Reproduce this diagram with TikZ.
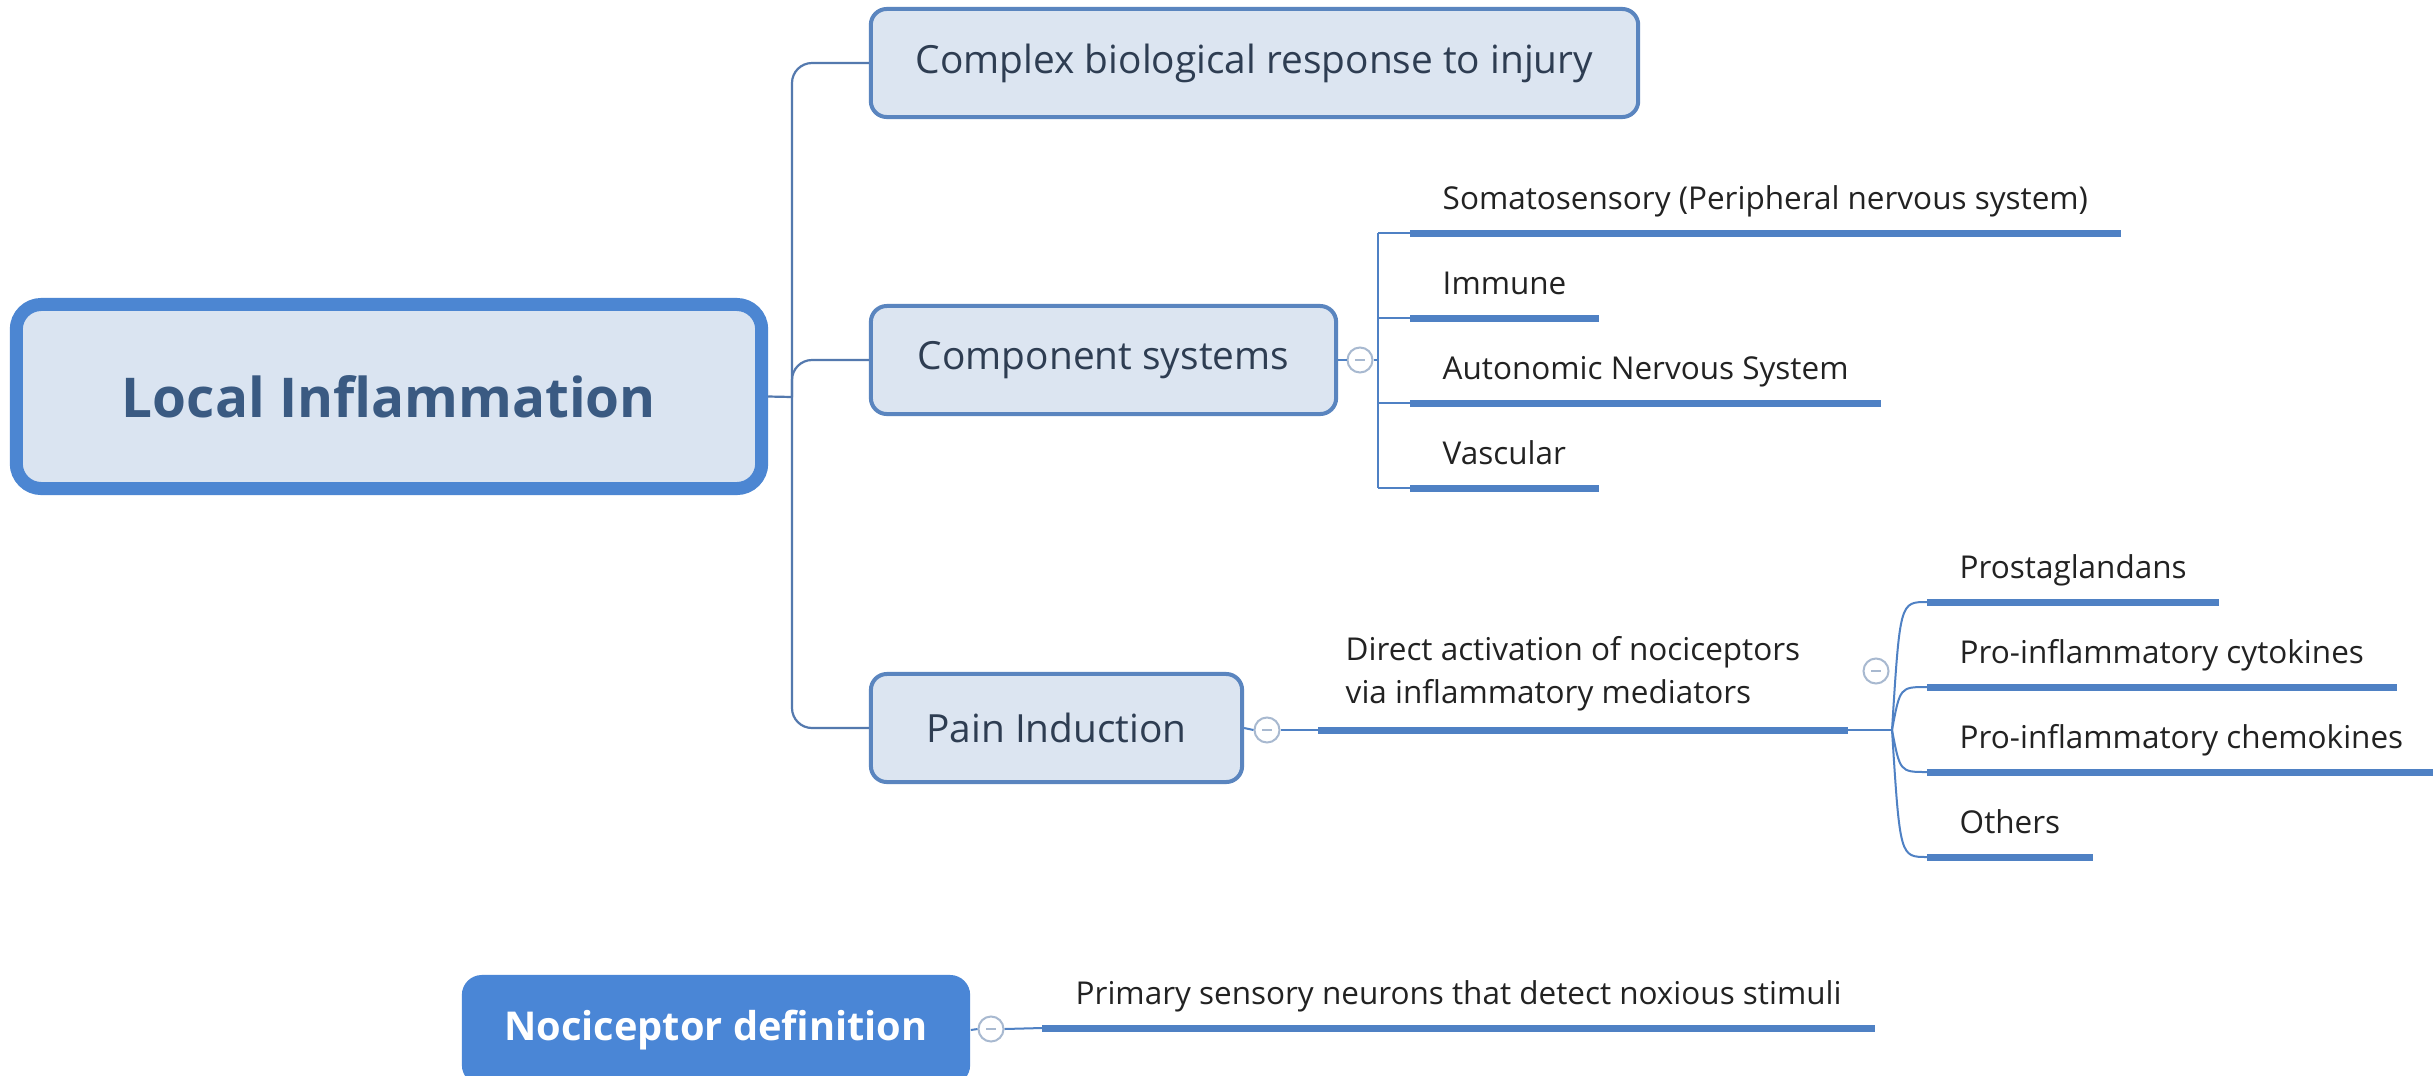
\documentclass[tikz,border=0pt]{standalone}
\usepackage{fontspec}
\setmainfont{Open Sans}
\usetikzlibrary{calc}

\definecolor{rootblue}{HTML}{4C86D2}
\definecolor{rootfill}{HTML}{DAE4F1}
\definecolor{roottext}{HTML}{3A5A82}
\definecolor{topicblue}{HTML}{5A85BF}
\definecolor{topicfill}{HTML}{DCE5F1}
\definecolor{topictext}{HTML}{2E3D52}
\definecolor{leaftext}{HTML}{222222}
\definecolor{leafblue}{HTML}{4F81C4}
\definecolor{trunkcol}{HTML}{5479AE}
\definecolor{togglecol}{HTML}{A8B9D0}
\definecolor{nocfill}{HTML}{4A86D6}

\tikzset{
  rootbox/.style={draw=rootblue, line width=0.13cm, fill=rootfill, rounded corners=0.25cm,
    minimum width=7.45cm, minimum height=1.84cm, inner sep=0,
    font=\fontsize{15.6}{18}\selectfont\bfseries, text=roottext},
  topicbox/.style={draw=topicblue, line width=0.04cm, fill=topicfill, rounded corners=0.16cm,
    minimum height=1.08cm, inner sep=0,
    font=\fontsize{11.04}{13}\selectfont, text=topictext},
  leaf/.style={anchor=south west, inner xsep=0.32cm, inner ysep=0, text depth=0.23cm,
    font=\fontsize{8.95}{12.2}\selectfont, text=leaftext},
  leafline/.style={draw=leafblue, line width=0.07cm},
  trunk/.style={draw=trunkcol, line width=0.022cm},
  branch/.style={draw=leafblue, line width=0.02cm},
  toggle/.style={circle, draw=togglecol, fill=white, line width=0.02cm,
    minimum size=0.25cm, inner sep=0,
    path picture={\draw[togglecol, line width=0.018cm]
      ([xshift=-0.05cm]path picture bounding box.center) --
      ([xshift=0.05cm]path picture bounding box.center);}},
  nocbox/.style={fill=nocfill, rounded corners=0.2cm, minimum width=5.08cm,
    minimum height=1.10cm, inner sep=0, text=white,
    font=\fontsize{11.3}{13}\selectfont\bfseries},
}

\begin{document}
\begin{tikzpicture}[x=0.01cm, y=-0.01cm]
\useasboundingbox (0,0) rectangle (2433,1075);
\clip (0,0) rectangle (2433,1075);
\fill[white] (0,0) rectangle (2433,1075);

% central topic and its three main branches
\node[rootbox] (root) at (389,396.5) {Local Inflammation};
\coordinate (hub) at (792,397);

\node[topicbox, minimum width=7.67cm] (t1) at (1254.5,63) {Complex biological response to injury};
\node[topicbox, minimum width=4.65cm] (t2) at (1103.5,360) {Component systems};
\node[topicbox, minimum width=3.71cm] (t3) at (1056.5,728) {Pain Induction};

\draw[trunk] (root.east) -- (hub);
\draw[trunk, rounded corners=0.2cm] (hub) |- (t1.west);
\draw[trunk, rounded corners=0.2cm] (hub) |- (t2.west);
\draw[trunk, rounded corners=0.2cm] (hub) |- (t3.west);

% component systems
\node[toggle] (c2) at (1360,360) {};
\coordinate (v2) at (1378,360);
\node[leaf] (s1) at (1410,233) {Somatosensory (Peripheral nervous system)};
\node[leaf] (s2) at (1410,318) {Immune};
\node[leaf] (s3) at (1410,403) {Autonomic Nervous System};
\node[leaf] (s4) at (1410,488) {Vascular};

\draw[branch] (t2.east) -- (c2.west);
\draw[branch] (c2.east) -- (v2);
\draw[branch] (v2 |- s1.south west) -- (v2 |- s4.south west);
\foreach \n in {s1,s2,s3,s4}{
  \draw[branch] (v2 |- \n.south west) -- (\n.south west);
  \draw[leafline] (\n.south west) -- (\n.south east);
}

% pain induction
\node[toggle] (c3) at (1267,730) {};
\node[leaf, inner xsep=0.27cm, text depth=0.26cm, align=left] (d) at (1318,730)
  {Direct activation of nociceptors\\via inflammatory mediators};
\coordinate (dend) at ($(d.south east)+(20,0)$);
\coordinate (fork) at (1892,730);
\coordinate (fctl) at (1900,730);
\node[toggle] (c4) at (1876,671) {};

\draw[branch] (t3.east) -- (c3.west);
\draw[branch] (c3.east) -- (d.south west);
\draw[leafline] (d.south west) -- (dend);
\draw[branch] (dend) -- (fork);

\node[leaf] (p1) at (1927,602) {Prostaglandans};
\node[leaf] (p2) at (1927,687) {Pro-inflammatory cytokines};
\node[leaf] (p3) at (1927,772) {Pro-inflammatory chemokines};
\node[leaf] (p4) at (1927,857) {Others};
\foreach \n in {p1,p2,p3,p4}{
  \draw[branch] (fork) .. controls (fctl |- \n.south west) .. (\n.south west);
  \draw[leafline] (\n.south west) -- (\n.south east);
}

% floating topic: nociceptor definition
\node[nocbox] (noc) at (716,1030) {Nociceptor definition};
\node[toggle] (c5) at (991,1029) {};
\node[leaf, inner xsep=0.33cm] (nd) at (1042,1028) {Primary sensory neurons that detect noxious stimuli};
\draw[branch] (noc.east) -- (c5.west);
\draw[branch] (c5.east) -- (nd.south west);
\draw[leafline] (nd.south west) -- (nd.south east);
\end{tikzpicture}
\end{document}
